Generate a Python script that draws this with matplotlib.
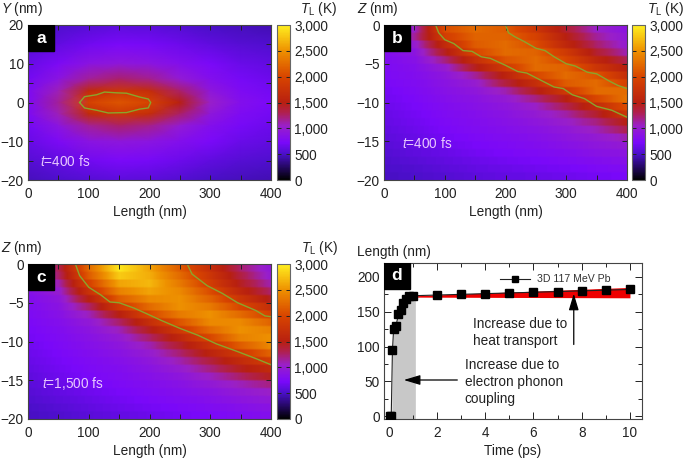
import numpy as np
import matplotlib
matplotlib.use('Agg')
import matplotlib.pyplot as plt
from matplotlib.colors import LinearSegmentedColormap
from matplotlib.ticker import MultipleLocator

plt.rcParams['font.family'] = ['Liberation Sans', 'DejaVu Sans']
plt.rcParams['mathtext.fontset'] = 'custom'
plt.rcParams['mathtext.rm'] = 'Liberation Sans'
plt.rcParams['mathtext.it'] = 'Liberation Sans:italic'
plt.rcParams['axes.unicode_minus'] = True

W, H = 685, 458

# temperature tables
length_cols = [0, 50, 100, 150, 200, 250, 300, 350, 400]

y_rows = [20, 15, 10, 6, 3, 0, -3, -6, -10, -15, -20]
temp_a = [
    [480, 520, 560, 590, 580, 540, 500, 470, 450],
    [560, 620, 690, 730, 710, 660, 600, 560, 530],
    [640, 760, 880, 930, 900, 820, 730, 650, 610],
    [700, 900, 1150, 1250, 1180, 980, 820, 710, 660],
    [750, 1080, 1650, 1800, 1680, 1250, 930, 770, 700],
    [770, 1150, 1950, 2100, 1980, 1500, 1050, 820, 730],
    [750, 1080, 1650, 1800, 1680, 1250, 930, 770, 700],
    [700, 900, 1150, 1250, 1180, 980, 820, 710, 660],
    [640, 760, 880, 930, 900, 820, 730, 650, 610],
    [560, 620, 690, 730, 710, 660, 600, 560, 530],
    [480, 520, 560, 590, 580, 540, 500, 470, 450],
]

# one row per 1 nm band, z = 0 at the top
temp_b = [
    [750, 1050, 2050, 2250, 2150, 1800, 1400, 1050, 900],
    [780, 1150, 1900, 2200, 2200, 1950, 1500, 1150, 950],
    [780, 1000, 1650, 2150, 2250, 2050, 1600, 1250, 1000],
    [800, 900, 1450, 2000, 2250, 2200, 1850, 1400, 1100],
    [780, 850, 1200, 1700, 2100, 2250, 2000, 1600, 1300],
    [760, 820, 1000, 1450, 1850, 2250, 2200, 1800, 1500],
    [750, 800, 920, 1150, 1550, 2000, 2250, 2100, 1700],
    [730, 780, 880, 1000, 1350, 1700, 2150, 2250, 1950],
    [700, 760, 850, 930, 1100, 1450, 1850, 2250, 2250],
    [680, 740, 820, 880, 980, 1200, 1500, 2000, 2300],
    [660, 720, 790, 850, 920, 1050, 1300, 1650, 2050],
    [640, 700, 770, 820, 880, 980, 1120, 1400, 1800],
    [630, 680, 750, 800, 850, 920, 1030, 1200, 1500],
    [610, 660, 730, 780, 820, 870, 950, 1080, 1300],
    [590, 640, 700, 750, 790, 830, 900, 980, 1100],
    [570, 620, 670, 720, 760, 800, 850, 920, 980],
    [550, 600, 640, 690, 730, 760, 800, 860, 900],
    [530, 570, 610, 650, 690, 720, 760, 800, 840],
    [510, 540, 580, 620, 650, 680, 710, 750, 780],
    [490, 520, 550, 590, 620, 640, 670, 700, 730],
]

temp_c = [
    [800, 1300, 2250, 2950, 2600, 2150, 1700, 1250, 950],
    [820, 1250, 2150, 2800, 2650, 2250, 1800, 1350, 1000],
    [830, 1100, 1950, 2600, 2700, 2350, 1900, 1450, 1100],
    [830, 1000, 1750, 2400, 2600, 2450, 2050, 1600, 1250],
    [800, 920, 1500, 2150, 2450, 2500, 2200, 1800, 1450],
    [780, 880, 1250, 1850, 2250, 2500, 2350, 2000, 1700],
    [760, 850, 1080, 1500, 2000, 2350, 2500, 2250, 1950],
    [740, 820, 960, 1250, 1700, 2100, 2450, 2450, 2200],
    [720, 790, 900, 1080, 1450, 1850, 2250, 2500, 2400],
    [700, 770, 860, 980, 1250, 1600, 2000, 2400, 2500],
    [680, 750, 830, 920, 1100, 1400, 1750, 2150, 2450],
    [660, 730, 800, 870, 1000, 1230, 1550, 1850, 2200],
    [640, 710, 770, 830, 930, 1100, 1350, 1650, 1900],
    [620, 690, 750, 800, 880, 1000, 1200, 1450, 1650],
    [600, 670, 730, 780, 840, 920, 1060, 1250, 1450],
    [580, 640, 700, 750, 800, 860, 960, 1080, 1200],
    [560, 620, 670, 720, 770, 820, 880, 970, 1050],
    [540, 590, 640, 690, 740, 780, 830, 900, 960],
    [510, 560, 610, 660, 700, 740, 780, 830, 880],
    [490, 530, 580, 620, 660, 700, 740, 780, 820],
]

# green contours
contour_a_x = [85, 93, 113, 126, 145, 162, 184, 198, 202, 198, 184, 162, 132, 113, 93, 85]
contour_a_y = [0, 1.5, 2, 2.7, 2.5, 2.4, 1.4, 0.9, 0, -1.4, -1.7, -2.6, -2.7, -2, -1.4, 0]
contour_b_low_x = [85, 90, 100, 115, 130, 145, 160, 175, 200, 220, 235, 250, 265, 280, 295, 310, 330, 350, 375, 400]
contour_b_low_z = [0, -1, -1.9, -2.4, -3.3, -3.4, -4.1, -4.3, -5.2, -6, -6.2, -6.8, -7.4, -8, -8.2, -9, -9.5, -10.5, -11, -11.9]
contour_b_up_x = [200, 205, 215, 230, 250, 265, 280, 300, 315, 335, 350, 370, 385, 400]
contour_b_up_z = [0, -1, -1.5, -2.1, -3, -3.3, -4.1, -5, -5.3, -6.1, -6.3, -7.2, -7.8, -8.2]
contour_c_low_x = [78, 85, 100, 120, 135, 150, 175, 195, 220, 250, 280, 310, 345, 375, 400]
contour_c_low_z = [0, -1.5, -3, -4, -4.9, -5, -5.7, -6.4, -7.3, -8.3, -9.2, -10.3, -11.3, -12.2, -13]
contour_c_up_x = [262, 270, 295, 320, 345, 375, 390, 400]
contour_c_up_z = [0, -1.3, -2.8, -3.8, -5, -6, -6.7, -6.8]

# panel d
time_ps = [0.05, 0.1, 0.15, 0.2, 0.3, 0.4, 0.5, 0.6, 0.7, 0.85, 1, 2, 3, 4, 5, 6, 7, 8, 9, 10]
length_nm = [0, 0, 95, 125, 130, 147, 153, 163, 168, 172, 173, 174, 175, 176, 177, 178, 179, 180, 181, 182]
red_t = [1.1, 10]
red_top = [173, 185]
red_bottom = [171, 170]

cbar_ticks = [0, 500, 1000, 1500, 2000, 2500, 3000]
cbar_labels = ['0', '500', '1,000', '1,500', '2,000', '2,500', '3,000']

cmap = LinearSegmentedColormap.from_list('tl', [
    (0.0, '#000000'), (500 / 3000, '#4a10c8'), (720 / 3000, '#7a08fa'),
    (1050 / 3000, '#9a20c8'), (1300 / 3000, '#b02050'), (1500 / 3000, '#b82010'),
    (2000 / 3000, '#d84500'), (2500 / 3000, '#ee9000'), (1.0, '#fff020')])

fs = 9.8
green = '#8aa52c'
fig = plt.figure(figsize=(W / 100, H / 100), dpi=100)


def px_axes(x0, y0, x1, y1):
    return fig.add_axes([x0 / W, 1 - y1 / H, (x1 - x0) / W, (y1 - y0) / H])


def px_text(x, y, s, **kw):
    fig.text(x / W, 1 - y / H, s, fontsize=fs, va='center', color='#222222', **kw)


def style_axes(ax):
    ax.tick_params(which='both', direction='in', top=True, right=True, length=3.5,
                   width=0.7, labelsize=fs, pad=5, color='#222222', labelcolor='#222222')
    # y labels sit closer, the minus signs would run off the left edge
    ax.tick_params(axis='y', which='both', pad=3)
    for s in ax.spines.values():
        s.set_linewidth(0.8)
        s.set_color('#444444')


def heat_panel(rect, cbar_x, table, ylabel, letter, tlabel, cbar_text_x, rows=None):
    ax = px_axes(*rect)
    if rows is None:
        # the 1 nm bands stay blocky along z, smooth along the length
        fine_x = np.linspace(0, 400, 201)
        fine = np.array([np.interp(fine_x, length_cols, r) for r in table])
        fine = np.repeat(fine, 4, axis=0)
        im = ax.imshow(fine, extent=[0, 400, -20, 0], aspect='auto', cmap=cmap,
                       vmin=0, vmax=3000, interpolation='bilinear', origin='upper')
        ax.set_ylim(-20, 0)
        ax.yaxis.set_major_locator(MultipleLocator(5))
    else:
        im = ax.pcolormesh(length_cols, rows, np.array(table), cmap=cmap, vmin=0, vmax=3000,
                           shading='gouraud')
        ax.set_ylim(-20, 20)
        ax.yaxis.set_major_locator(MultipleLocator(10))
        ax.yaxis.set_minor_locator(MultipleLocator(5))
    ax.set_xlim(0, 400)
    ax.xaxis.set_major_locator(MultipleLocator(100))
    ax.xaxis.set_minor_locator(MultipleLocator(50))
    style_axes(ax)
    ax.set_xlabel('Length (nm)', fontsize=fs, labelpad=3, color='#222222')
    ax.add_patch(plt.Rectangle((0, 1 - 26 / (rect[3] - rect[1])), 26 / (rect[2] - rect[0]),
                               26 / (rect[3] - rect[1]), transform=ax.transAxes, color='black', zorder=5))
    ax.text(13 / (rect[2] - rect[0]), 1 - 13 / (rect[3] - rect[1]), letter, transform=ax.transAxes,
            color='white', fontsize=12.5, fontweight='bold', ha='center', va='center', zorder=6)
    ax.text(tlabel[0], tlabel[1], tlabel[2], color='#e8c8ff', fontsize=fs, va='center')
    cax = px_axes(cbar_x, rect[1], cbar_x + 13, rect[3])
    cb = fig.colorbar(im, cax=cax, ticks=cbar_ticks)
    cb.ax.set_yticklabels(cbar_labels)
    cb.ax.tick_params(direction='in', left=True, right=True, length=3, width=0.7,
                      labelsize=fs, pad=3, color='#222222', labelcolor='#222222')
    cb.outline.set_linewidth(0.8)
    cb.outline.set_edgecolor('#666666')
    px_text(rect[0] - 24 if ylabel[0] == 'Y' else rect[0] - 27, rect[1] - 16, ylabel)
    px_text(cbar_text_x, rect[1] - 16, r'$\mathit{T}_{\mathrm{L}}$ (K)')
    return ax


ax_a = heat_panel((28, 25, 271, 180), 277, temp_a, r'$\mathit{Y}$ (nm)', 'a', (20, -15.3, r'$\mathit{t}$=400 fs'), 300, rows=y_rows)
ax_a.plot(contour_a_x, contour_a_y, color=green, lw=1)

ax_b = heat_panel((384, 25, 627, 180), 632, temp_b, r'$\mathit{Z}$ (nm)', 'b', (30, -15.3, r'$\mathit{t}$=400 fs'), 647)
ax_b.plot(contour_b_low_x, contour_b_low_z, color=green, lw=1)
ax_b.plot(contour_b_up_x, contour_b_up_z, color=green, lw=1)

ax_c = heat_panel((28, 264, 271, 419), 277, temp_c, r'$\mathit{Z}$ (nm)', 'c', (23, -15.4, r'$\mathit{t}$=1,500 fs'), 301)
ax_c.plot(contour_c_low_x, contour_c_low_z, color=green, lw=1)
ax_c.plot(contour_c_up_x, contour_c_up_z, color=green, lw=1)

# panel d
ax_d = px_axes(384, 263, 642, 419)
ax_d.set_xlim(-0.2, 10.5)
ax_d.set_ylim(-4, 220)
t_fill = [0.12] + time_ps[2:11] + [1.1]
l_fill = [-4] + length_nm[2:11] + [173]
ax_d.fill_between(t_fill, -4, l_fill, color='#c8c8c8', lw=0, zorder=1)
ax_d.fill_between(red_t, red_bottom, red_top, color='#ee0000', lw=0, zorder=2)
ax_d.plot(time_ps, length_nm, color='#222222', lw=0.8, marker='s', ms=5.2, mfc='black', mec='black',
          label='3D 117 MeV Pb', zorder=3)
ax_d.xaxis.set_major_locator(MultipleLocator(2))
ax_d.xaxis.set_minor_locator(MultipleLocator(1))
ax_d.yaxis.set_major_locator(MultipleLocator(50))
ax_d.yaxis.set_minor_locator(MultipleLocator(25))
style_axes(ax_d)
ax_d.tick_params(which='major', length=5)
ax_d.tick_params(which='minor', length=3)
ax_d.set_xlabel('Time (ps)', fontsize=fs, labelpad=3, color='#222222')
ax_d.legend(loc='center right', bbox_to_anchor=(0.877, 0.895), frameon=False, fontsize=7.6, handlelength=2.9,
            labelcolor='#333333', borderpad=0, borderaxespad=0, handletextpad=0.6, markerscale=0.8)
ax_d.add_patch(plt.Rectangle((0, 1 - 26 / 156), 26 / 258, 26 / 156, transform=ax_d.transAxes, color='black', zorder=5))
ax_d.text(13 / 258, 1 - 13 / 156, 'd', transform=ax_d.transAxes, color='white', fontsize=12.5,
          fontweight='bold', ha='center', va='center', zorder=6)
px_text(357, 252, 'Length (nm)')

arrow_style = dict(arrowstyle='-|>,head_length=1.0,head_width=0.3', color='black', lw=0.9, shrinkA=0, shrinkB=0)
ax_d.annotate('', xy=(7.67, 176), xytext=(7.67, 103), arrowprops=arrow_style)
ax_d.annotate('', xy=(0.62, 52), xytext=(2.84, 52), arrowprops=arrow_style)
ax_d.text(3.48, 120, 'Increase due to\nheat transport', fontsize=fs, va='center', color='#222222', linespacing=1.25)
ax_d.text(3.14, 49, 'Increase due to\nelectron phonon\ncoupling', fontsize=fs, va='center', color='#222222', linespacing=1.25)

fig.savefig('out.png', dpi=100)
